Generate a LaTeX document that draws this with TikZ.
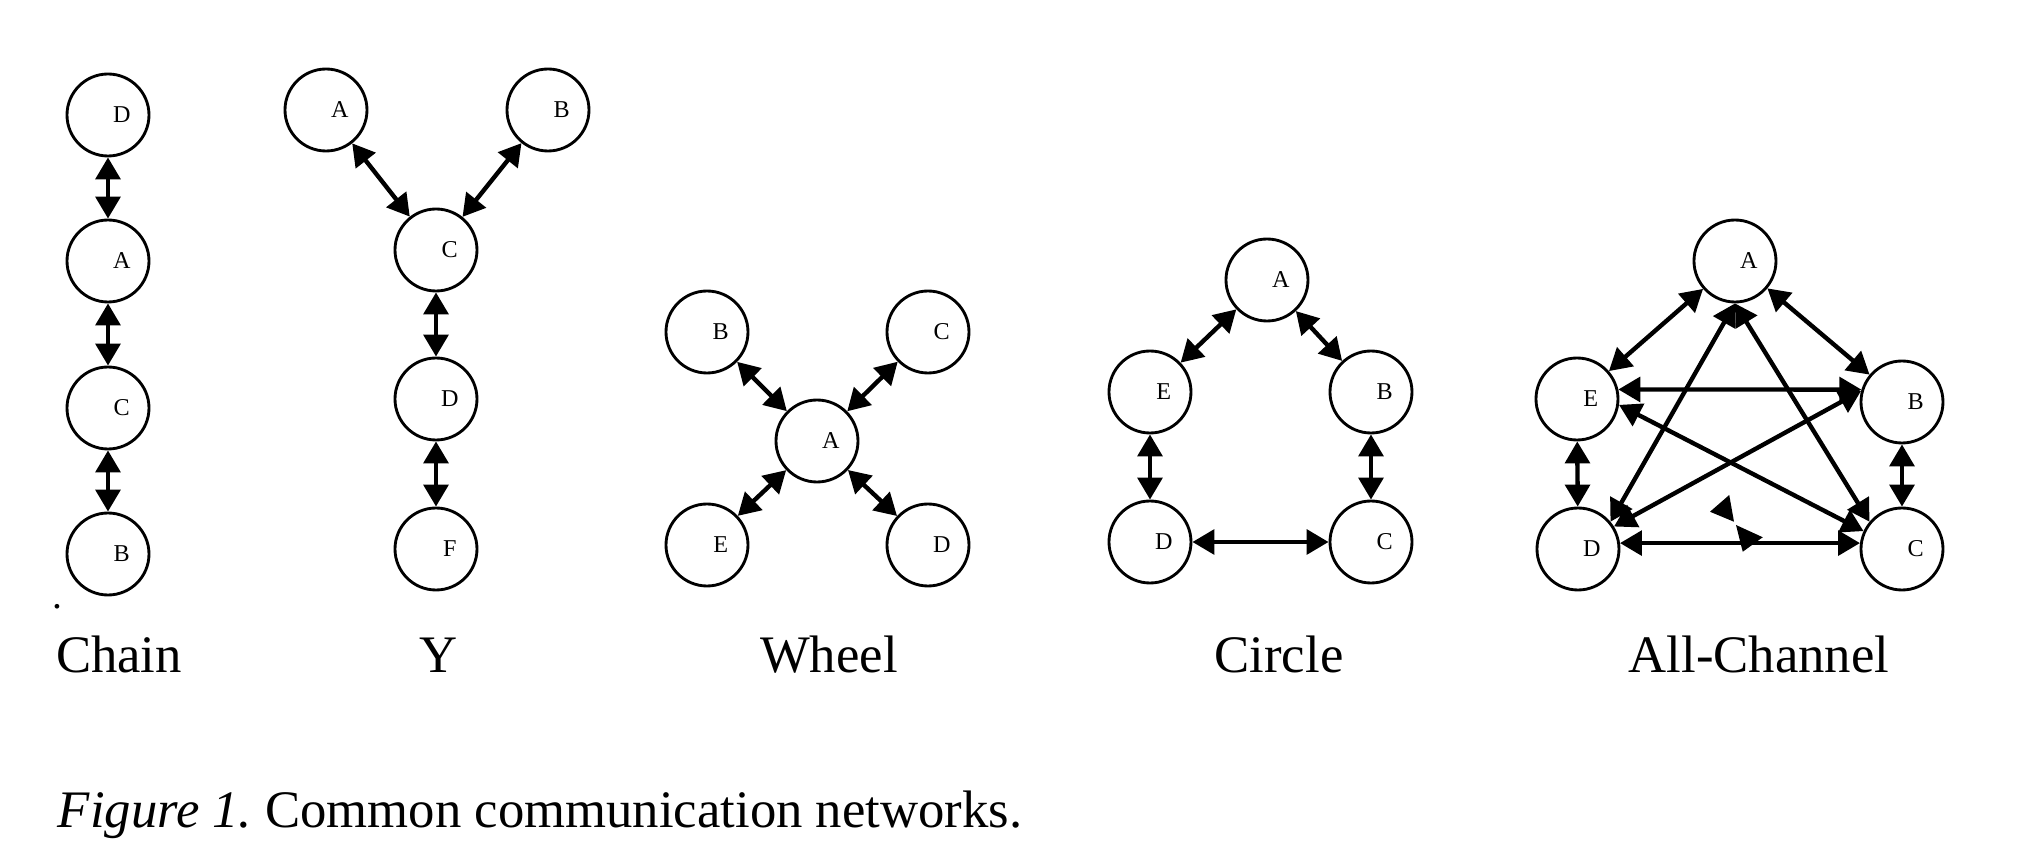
\documentclass[tikz,border=0pt]{standalone}
\usepackage{fontspec}
\setmainfont{Liberation Serif}
\usepackage{tikz}
\usetikzlibrary{arrows.meta}

\begin{document}
\begin{tikzpicture}[
  x=1cm,y=1cm,
  every node/.style={font=\fontsize{12}{14}\selectfont},
  member/.style={circle,draw,line width=0.65pt,minimum size=0.656cm,inner sep=0pt,
    label={[font=\fontsize{5.5}{6}\selectfont,xshift=0.11cm]center:#1}},
  link/.style={{Triangle[length=5pt,width=5.6pt]}-{Triangle[length=5pt,width=5.6pt]},line width=1pt},
  title/.style={anchor=base}
]
  \useasboundingbox (0,0) rectangle (16.192,6.768);

  \node[member=D] (chD) at (0.864,5.848) {};
  \node[member=A] (chA) at (0.864,4.680) {};
  \node[member=C] (chC) at (0.864,3.504) {};
  \node[member=B] (chB) at (0.864,2.336) {};
  \draw[link] (chD) -- (chA);
  \draw[link] (chA) -- (chC);
  \draw[link] (chC) -- (chB);

  \node[member=A] (yA) at (2.608,5.888) {};
  \node[member=B] (yB) at (4.384,5.888) {};
  \node[member=C] (yC) at (3.488,4.768) {};
  \node[member=D] (yD) at (3.488,3.576) {};
  \node[member=F] (yF) at (3.488,2.376) {};
  \draw[link] (yA) -- (yC);
  \draw[link] (yB) -- (yC);
  \draw[link] (yC) -- (yD);
  \draw[link] (yD) -- (yF);

  \node[member=B] (whB) at (5.656,4.112) {};
  \node[member=C] (whC) at (7.424,4.112) {};
  \node[member=A] (whA) at (6.536,3.240) {};
  \node[member=E] (whE) at (5.656,2.408) {};
  \node[member=D] (whD) at (7.424,2.408) {};
  \draw[link] (whB) -- (whA);
  \draw[link] (whC) -- (whA);
  \draw[link] (whE) -- (whA);
  \draw[link] (whD) -- (whA);

  \node[member=A] (ciA) at (10.136,4.528) {};
  \node[member=E] (ciE) at (9.200,3.632) {};
  \node[member=B] (ciB) at (10.968,3.632) {};
  \node[member=D] (ciD) at (9.200,2.432) {};
  \node[member=C] (ciC) at (10.968,2.432) {};
  \draw[link] (ciA) -- (ciE);
  \draw[link] (ciA) -- (ciB);
  \draw[link] (ciE) -- (ciD);
  \draw[link] (ciB) -- (ciC);
  \draw[link] (ciD) -- (ciC);

  \node[member=A] (alA) at (13.880,4.680) {};
  \node[member=E] (alE) at (12.616,3.576) {};
  \node[member=B] (alB) at (15.216,3.552) {};
  \node[member=D] (alD) at (12.624,2.376) {};
  \node[member=C] (alC) at (15.216,2.376) {};
  \draw[link] (alA) -- (alE);
  \draw[link] (alA) -- (alB);
  \draw[link] (alE) -- (alD);
  \draw[link] (alB) -- (alC);
  \draw[link] (alE.13) -- (alB.163);
  \draw[link] (alD.8) -- (alC.172);
  \draw[link] (alA.south) -- (alD.40);
  \draw[link] (alA.south) -- (alC.140);
  \draw[link] (alE.-8) -- (alC.155);
  \draw[link] (alB.165) -- (alD.32);
  \fill (13.680,2.674) -- (13.834,2.808) -- (13.872,2.594) -- cycle;
  \fill (13.888,2.568) -- (14.102,2.470) -- (13.942,2.354) -- cycle;

  \node[anchor=base,font=\small] (dot) at (0.46,1.90) {.};
  \node[title] (tChain) at (0.952,1.39) {Chain};
  \node[title] (tY) at (3.512,1.39) {Y};
  \node[title] (tWheel) at (6.632,1.39) {Wheel};
  \node[title] (tCircle) at (10.232,1.39) {Circle};
  \node[title] (tAll) at (14.072,1.39) {All-Channel};
  \node[anchor=base west,inner sep=0pt] (caption) at (0.456,0.148)
    {\frenchspacing\textit{Figure 1.} Common communication networks.};
\end{tikzpicture}
\end{document}
